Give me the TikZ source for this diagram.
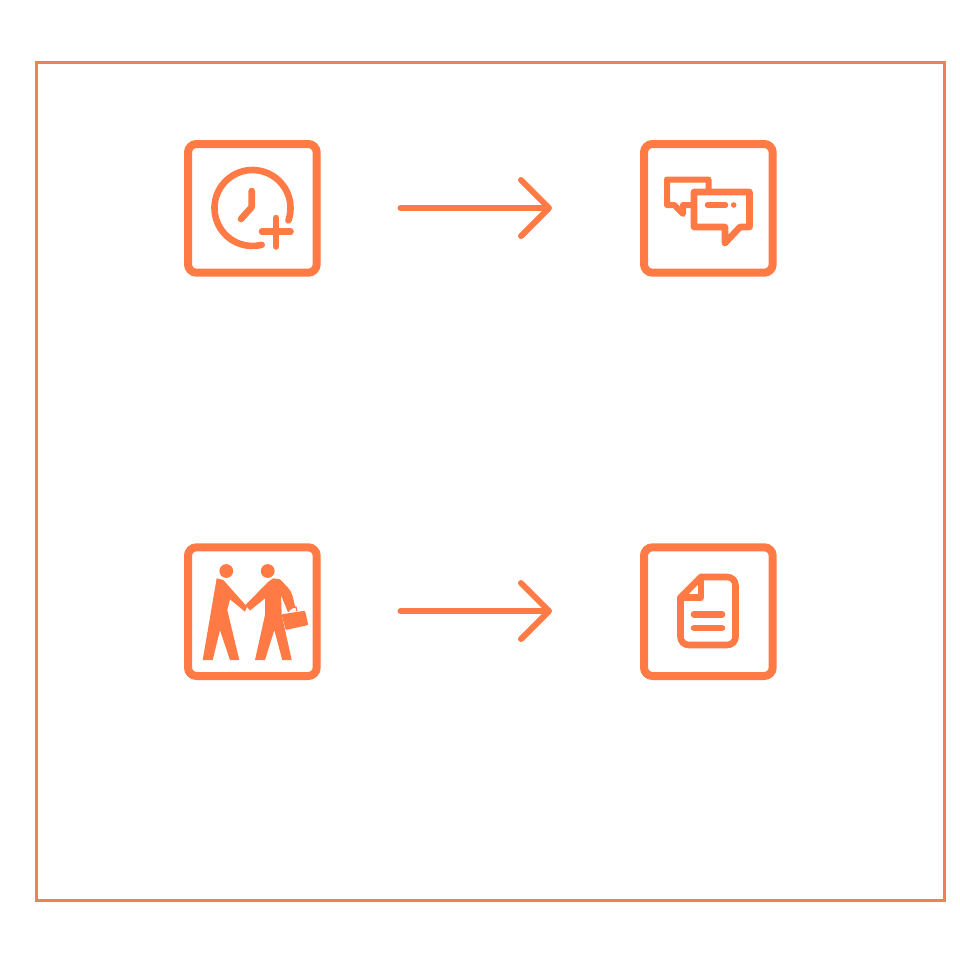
\documentclass[tikz,border=0pt]{standalone}
\usetikzlibrary{arrows.meta}
\definecolor{accent}{HTML}{FF7A45}
\definecolor{frameline}{HTML}{F5804F}
\tikzset{
  iconbox/.style={draw=accent,line width=8pt,rounded corners=8.5pt,minimum width=128.7pt,minimum height=128.7pt,inner sep=0pt,outer sep=0pt,anchor=center},
  flow/.style={draw=accent,line width=6pt,line cap=round,-{Straight Barb[length=28pt,width=56pt,line width=6pt,round]}},
  glyph/.style={draw=accent,line width=6.6pt,line cap=round,line join=round},
  figure/.style={fill=accent,draw=none}
}
\begin{document}
\begin{tikzpicture}[x=1pt,y=-1pt]
\useasboundingbox (0,0) rectangle (960,962);
\draw[frameline,line width=3pt] (36.5,62.5) rectangle (944.5,900.5);
\node[iconbox] (clock) at (252.35,208.35) {};
\node[iconbox] (chat) at (708.35,208.35) {};
\node[iconbox] (deal) at (252.35,611.65) {};
\node[iconbox] (doc) at (708.35,611.65) {};
\coordinate (s1) at (400.5,208);
\coordinate (e1) at (552,208);
\coordinate (s2) at (400.5,611);
\coordinate (e2) at (552,611);
\draw[flow] (s1) -- (e1);
\draw[flow] (s2) -- (e2);
% clock
\draw[glyph] (252.5,208) ++(19:38) arc[start angle=19,end angle=-284,radius=38];
\draw[glyph] (251.7,191) -- (251.7,207) -- (241,219);
\draw[glyph] (262,231.7) -- (290.5,231.7) (276,218) -- (276,246.5);
% chat
\draw[glyph,line width=6pt] (692,205) -- (683,205) -- (683,214) -- (674.3,205) -- (667,205) -- (667,179.5) -- (708.5,179.5) -- (708.5,191);
\draw[glyph] (694,192) -- (749.5,192) -- (749.5,227) -- (740,227) -- (725,243) -- (725,227) -- (694,227) -- cycle;
\draw[glyph,line width=5.5pt] (707.5,205) -- (725.5,205);
\fill[accent] (733.7,205) circle[radius=2.8];
% doc
\draw[glyph] (680.5,597.5) -- (701,577) -- (727,577) .. controls (732,577) and (735.5,580.5) .. (735.5,585.5) -- (735.5,636.5) .. controls (735.5,641.5) and (732,645) .. (727,645) -- (689,645) .. controls (684,645) and (680.5,641.5) .. (680.5,636.5) -- cycle;
\draw[glyph] (701,577) -- (701,597.5) -- (680.5,597.5);
\draw[glyph] (694,614.3) -- (722,614.3) (694,628) -- (722,628);
% people
\fill[accent] (226.3,571) circle[radius=6.9];
\fill[accent] (267.7,571) circle[radius=6.9];
\fill[figure] (216.7,578.3) -- (223.3,580) -- (247,606.7) -- (245,611.7) -- (230,599.3) -- (227.3,610) -- (239.3,660) -- (230,660) -- (220,630) -- (212.7,660) -- (202.7,660) -- cycle;
\fill[figure] (280,579.3) -- (273.3,578.3) -- (268.3,581.7) -- (245.5,605) -- (250,610.5) -- (265,598.3) -- (265,615) -- (255,660) -- (265,660) -- (274.3,630) -- (282.3,660) -- (291.7,660) -- (281.7,615) -- (281,595) -- (287.7,611.7) -- (295,606.7) .. controls (293,597) and (292,592) .. (288.3,588) -- cycle;
\fill[figure,rounded corners=1pt] (281.5,614.3) -- (305,610.7) -- (308.3,625) -- (285.7,630) -- cycle;
\draw[accent,line width=1.3pt] (288.7,612) -- (288.7,608) -- (296,607) -- (296.7,611);
\end{tikzpicture}
\end{document}
